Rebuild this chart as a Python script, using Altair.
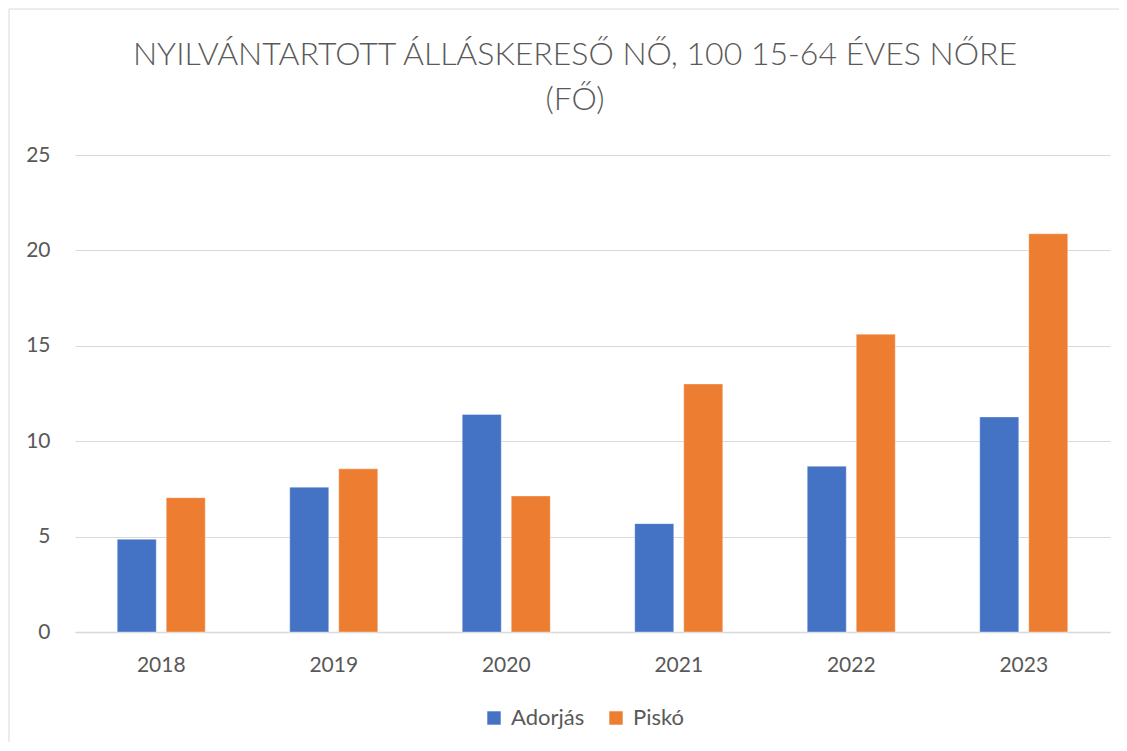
import altair as alt
import pandas as pd

years = ["2018", "2019", "2020", "2021", "2022", "2023"]
series = ["Adorjás", "Piskó"]
adorjas = [4.86, 7.59, 11.40, 5.68, 8.69, 11.27]
pisko = [7.04, 8.55, 7.13, 13.0, 15.61, 20.87]
colors = ["#4472C4", "#ED7D31"]
y_ticks = [0, 5, 10, 15, 20, 25]
title_lines = ["NYILVÁNTARTOTT ÁLLÁSKERESŐ NŐ, 100 15-64 ÉVES NŐRE", "(FŐ)"]

rows = []
for i, y in enumerate(years):
    rows.append({"year": y, "series": series[0], "value": adorjas[i]})
    rows.append({"year": y, "series": series[1], "value": pisko[i]})
df = pd.DataFrame(rows)

FONT = "Lato"
TXT = "#595959"
one = pd.DataFrame({"k": [0]})

frame_top = alt.Chart(one).mark_rule(color="#d9d9d9", strokeWidth=1).encode(
    x=alt.value(-66), x2=alt.value(1060), y=alt.value(-146)
)
frame_left = alt.Chart(one).mark_rule(color="#d9d9d9", strokeWidth=1).encode(
    x=alt.value(-66), y=alt.value(-146), y2=alt.value(640)
)

title = alt.Chart(one).mark_text(
    text=title_lines, font=FONT, fontSize=32, fontWeight=300, color=TXT,
    align="center", baseline="alphabetic", lineHeight=45,
).encode(x=alt.value(500), y=alt.value(-90))

bars = alt.Chart(df).mark_bar(stroke="white", strokeWidth=0.6, strokeOpacity=0.6).encode(
    x=alt.X(
        "year:N",
        sort=years,
        scale=alt.Scale(paddingInner=0, paddingOuter=0),
        axis=alt.Axis(
            title=None, labelAngle=0, ticks=False, domainColor="#d9d9d9",
            domainWidth=1.5, labelPadding=22, labelFontSize=21,
            labelColor=TXT, labelFont=FONT, grid=False,
        ),
    ),
    xOffset=alt.XOffset(
        "series:N",
        sort=series,
        scale=alt.Scale(domain=series, paddingInner=0.204, paddingOuter=0.862),
    ),
    y=alt.Y(
        "value:Q",
        scale=alt.Scale(domain=[0, 25], nice=False),
        axis=alt.Axis(
            title=None, values=y_ticks, ticks=False, domain=False,
            gridColor="#d9d9d9", gridWidth=1, labelPadding=25,
            labelFontSize=21, labelColor=TXT, labelFont=FONT,
        ),
    ),
    color=alt.Color(
        "series:N",
        sort=series,
        scale=alt.Scale(domain=series, range=colors),
        legend=alt.Legend(
            title=None, orient="none", direction="horizontal",
            legendX=408, legendY=552, symbolType="square", symbolSize=180,
            symbolStrokeWidth=0, labelFontSize=22, labelColor=TXT,
            labelFont=FONT, labelOffset=6, columnPadding=20, padding=0,
        ),
    ),
)

chart = alt.layer(frame_top, frame_left, title, bars).properties(
    width=1035,
    height=477,
    padding={"left": 67, "top": 147, "right": 9, "bottom": 110},
    autosize=alt.AutoSizeParams(type="none"),
).configure_view(stroke=None)

chart.save("out.html", embed_options={"renderer": "svg", "actions": False})
